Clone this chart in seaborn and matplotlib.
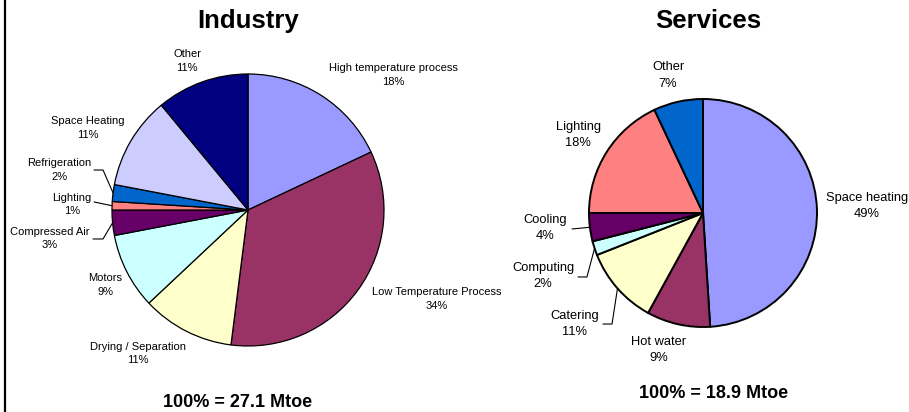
import numpy as np
import matplotlib
matplotlib.use('Agg')
import matplotlib.pyplot as plt
import seaborn as sns
from matplotlib.lines import Line2D

# data
ind_labels = ['High temperature process', 'Low Temperature Process', 'Drying / Separation',
              'Motors', 'Compressed Air', 'Lighting', 'Refrigeration', 'Space Heating', 'Other']
ind_values = [18, 34, 11, 9, 3, 1, 2, 11, 11]
ind_colors = ['#9999FF', '#993366', '#FFFFCC', '#CCFFFF', '#660066',
              '#FF8080', '#0066CC', '#CCCCFF', '#000080']
ind_total = '100% = 27.1 Mtoe'

srv_labels = ['Space heating', 'Hot water', 'Catering', 'Computing', 'Cooling', 'Lighting', 'Other']
srv_values = [49, 9, 11, 2, 4, 18, 7]
srv_colors = ['#9999FF', '#993366', '#FFFFCC', '#CCFFFF', '#660066', '#FF8080', '#0066CC']
srv_total = '100% = 18.9 Mtoe'

sns.set_theme(style='white')
plt.rcParams['font.family'] = ['Liberation Sans', 'DejaVu Sans']
plt.rcParams['text.color'] = 'black'

fig = plt.figure(figsize=(9.09, 4.12), dpi=100)
ax1 = fig.add_axes([0, 0, 0.5, 1])
ax2 = fig.add_axes([0.5, 0, 0.5, 1])

# label positions (axis units, pie radius = 1)
ind_text_pos = [(1.070, 0.993), (1.390, -0.654), (-0.809, -1.055), (-1.051, -0.551),
                (-1.456, -0.210), (-1.294, 0.040), (-1.389, 0.294), (-1.176, 0.603), (-0.448, 1.095)]
# leader lines: (text end, elbow) or None
ind_leaders = [None, None, None, None,
               [(-1.140, -0.213), (-1.066, -0.213)],
               [(-1.132, 0.059)],
               [(-1.132, 0.294), (-1.066, 0.294)],
               None, None]

srv_text_pos = [(1.439, 0.061), (-0.386, -1.202), (-1.123, -0.974), (-1.404, -0.553),
                (-1.386, -0.132), (-1.096, 0.684), (-0.307, 1.206)]
srv_leaders = [None, None,
               [(-0.877, -0.974), (-0.798, -0.974)],
               [(-1.096, -0.561), (-1.018, -0.561)],
               [(-1.149, -0.140)],
               None, None]


def draw_pie(ax, values, colors, labels, text_pos, leaders, lw, fs, ls):
    wedges, _ = ax.pie(values, colors=colors, startangle=90, counterclock=False,
                       wedgeprops=dict(edgecolor='black', linewidth=lw))
    for w, lab, v, pos, lead in zip(wedges, labels, values, text_pos, leaders):
        ax.text(pos[0], pos[1], f'{lab}\n{v}%', ha='center', va='center',
                fontsize=fs, linespacing=ls, color='black')
        if lead is not None:
            mid = np.deg2rad((w.theta1 + w.theta2) / 2)
            pts = lead + [(np.cos(mid), np.sin(mid))]
            ax.plot([p[0] for p in pts], [p[1] for p in pts], color='black', lw=0.8)


draw_pie(ax1, ind_values, ind_colors, ind_labels, ind_text_pos, ind_leaders, 0.9, 8, 1.4)
draw_pie(ax2, srv_values, srv_colors, srv_labels, srv_text_pos, srv_leaders, 1.4, 9.3, 1.45)

# pie 1: centre (248, 210) px, r = 136 px; pie 2: centre (703, 213) px, r = 114 px
ax1.set_xlim(-248 / 136, (454.5 - 248) / 136)
ax1.set_ylim(-202 / 136, 210 / 136)
ax2.set_xlim(-(703 - 454.5) / 114, (909 - 703) / 114)
ax2.set_ylim(-(412 - 213) / 114, 213 / 114)
for ax in (ax1, ax2):
    ax.set_aspect('auto')
    ax.axis('off')

fig.text(0.273, 0.949, 'Industry', ha='center', va='center', fontsize=18.5, fontweight='bold', color='black')
fig.text(0.779, 0.949, 'Services', ha='center', va='center', fontsize=18.5, fontweight='bold', color='black')
fig.text(0.261, 0.024, ind_total, ha='center', va='center', fontsize=13, fontweight='bold', color='black')
fig.text(0.785, 0.044, srv_total, ha='center', va='center', fontsize=13, fontweight='bold', color='black')

fig.add_artist(Line2D([0.0055, 0.0055], [0, 1], color='black', lw=1.6, transform=fig.transFigure))

fig.savefig('out.png', dpi=100, facecolor='white')
